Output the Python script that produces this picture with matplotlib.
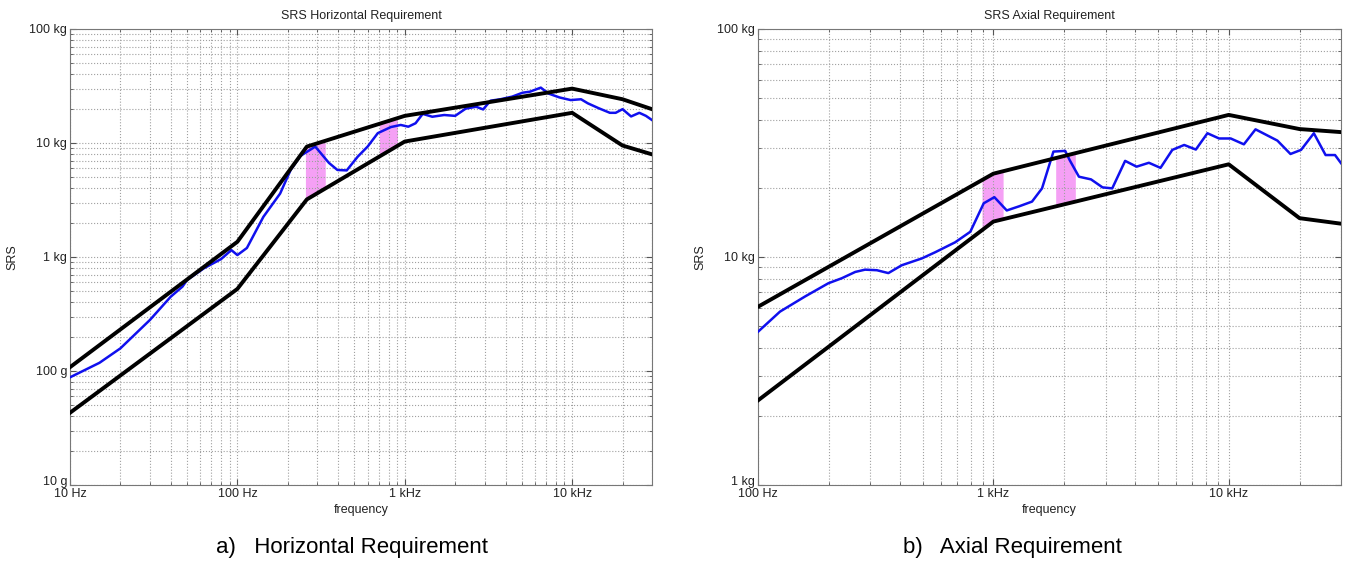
import numpy as np
import matplotlib.pyplot as plt
from matplotlib.ticker import FuncFormatter, LogLocator, NullFormatter
from matplotlib.transforms import ScaledTranslation

plt.rcParams['font.family'] = ['Liberation Sans', 'DejaVu Sans']

# SRS values are in g (1 kg = 1000 g)
# horizontal requirement
h_upper_f = [10, 100, 260, 1000, 10000, 20000, 30000]
h_upper_v = [108, 1360, 9300, 17300, 30000, 24200, 19800]
h_lower_f = [10, 100, 260, 1000, 10000, 20000, 30000]
h_lower_v = [43, 525, 3200, 10300, 18400, 9500, 7950]
h_meas_f = [10, 15, 20, 30, 40, 47, 50, 63, 80, 92, 100, 114, 143, 180, 208, 238,
            292, 352, 396, 450, 524, 600, 690, 826, 946, 1050, 1160, 1280, 1460,
            1720, 2000, 2310, 2670, 2940, 3250, 3730, 4380, 5050, 5600, 6500,
            7200, 8400, 9800, 11300, 12400, 14400, 16800, 18200, 20000, 22500,
            25200, 27600, 30000]
h_meas_v = [88, 118, 158, 280, 449, 550, 628, 795, 960, 1150, 1040, 1200, 2250,
            3600, 5800, 7700, 9300, 6700, 5800, 5750, 7600, 9300, 12200, 13800,
            14400, 13900, 14900, 18000, 17000, 17600, 17300, 20000, 20800, 19700,
            23500, 24200, 25500, 27600, 28200, 30600, 27200, 25100, 23800, 24200,
            22300, 20200, 18400, 18400, 19800, 17100, 18400, 17300, 15900]
h_bands = [(255, 335), (705, 905)]

# axial requirement
a_upper_f = [100, 1000, 10000, 20000, 30000]
a_upper_v = [6050, 23200, 42000, 36400, 35300]
a_lower_f = [100, 1000, 10000, 20000, 30000]
a_lower_v = [2350, 14300, 25500, 14800, 14000]
a_meas_f = [100, 124, 158, 199, 227, 259, 285, 320, 358, 408, 497, 567, 688, 798,
            910, 1010, 1140, 1290, 1460, 1610, 1800, 2020, 2110, 2310, 2600, 2910,
            3200, 3630, 4060, 4580, 5130, 5760, 6470, 7250, 8120, 9100, 10200,
            11600, 13000, 16100, 18300, 20300, 23000, 25800, 28300, 30000]
a_meas_v = [4700, 5760, 6700, 7670, 8070, 8600, 8800, 8750, 8500, 9200, 9860,
            10500, 11600, 12900, 17200, 18300, 16000, 16700, 17500, 20000, 29000,
            29200, 26600, 22500, 21900, 20200, 20000, 26400, 24900, 25900, 24600,
            29500, 31000, 29600, 34900, 33100, 33100, 31200, 36300, 32400, 28300,
            29500, 34900, 28000, 28000, 25800]
a_bands = [(895, 1100), (1840, 2230)]


def hz_label(v, pos):
    if v >= 1000:
        return '%g kHz' % (v / 1000)
    return '%g Hz' % v


def g_label(v, pos):
    if v >= 1000:
        return '%g kg' % (v / 1000)
    return '%g g' % v


def loginterp(f, xs, ys):
    return 10 ** np.interp(np.log10(f), np.log10(xs), np.log10(ys))


def draw_panel(ax, title, uf, uv, lf, lv, mf, mv, bands, xlim, ylim):
    for f0, f1 in bands:
        ff = np.logspace(np.log10(f0), np.log10(f1), 30)
        ax.fill_between(ff, loginterp(ff, lf, lv), loginterp(ff, uf, uv),
                        color='#f5a0f5', lw=0, zorder=1)
    ax.plot(mf, mv, color='#1010ee', lw=1.8, zorder=3)
    ax.plot(uf, uv, color='black', lw=2.8, zorder=4)
    ax.plot(lf, lv, color='black', lw=2.8, zorder=4)
    ax.set_xscale('log')
    ax.set_yscale('log')
    ax.set_xlim(*xlim)
    ax.set_ylim(*ylim)
    for axis in (ax.xaxis, ax.yaxis):
        axis.set_major_locator(LogLocator(base=10))
        axis.set_minor_locator(LogLocator(base=10, subs=np.arange(2, 10)))
        axis.set_minor_formatter(NullFormatter())
    ax.xaxis.set_major_formatter(FuncFormatter(hz_label))
    ax.yaxis.set_major_formatter(FuncFormatter(g_label))
    ax.grid(True, which='both', ls=':', color='#a0a0a0', lw=0.8)
    ax.tick_params(which='both', direction='in', top=True, right=True,
                   labelsize=9, colors='#555555', labelcolor='#222222', pad=2)
    ax.tick_params(which='major', length=4)
    ax.tick_params(which='minor', length=2)
    for s in ax.spines.values():
        s.set_color('#777777')
    ax.set_title(title, fontsize=9, color='#222222', pad=7)
    ax.set_xlabel('frequency', fontsize=9, color='#222222', labelpad=3)
    ax.set_ylabel('SRS', fontsize=9, color='#222222')
    ax.yaxis.set_label_coords(-0.088, 0.5)


fig = plt.figure(figsize=(13.47, 5.64), dpi=100)
ax1 = fig.add_axes([70 / 1347, 1 - 485 / 564, 582 / 1347, 456 / 564])
ax2 = fig.add_axes([758 / 1347, 1 - 485 / 564, 583 / 1347, 456 / 564])

draw_panel(ax1, 'SRS Horizontal Requirement', h_upper_f, h_upper_v, h_lower_f,
           h_lower_v, h_meas_f, h_meas_v, h_bands, (10, 30000), (10, 1e5))
draw_panel(ax2, 'SRS Axial Requirement', a_upper_f, a_upper_v, a_lower_f,
           a_lower_v, a_meas_f, a_meas_v, a_bands, (100, 30000), (1000, 1e5))

# lift the lowest y label a little, as in the original, so it clears the x label
fig.canvas.draw()
shift = ScaledTranslation(0, 5 / 100, fig.dpi_scale_trans)
for ax in (ax1, ax2):
    lab = ax.yaxis.get_majorticklabels()
    ymin = ax.get_ylim()[0]
    for t, loc in zip(lab, ax.get_yticks()):
        if abs(loc - ymin) < 1e-9 * ymin or np.isclose(loc, ymin):
            t.set_transform(t.get_transform() + shift)

fig.text(352 / 1347, 1 - 548 / 564, 'a)   Horizontal Requirement', fontsize=16,
         ha='center', va='center')
fig.text(1012 / 1347, 1 - 548 / 564, 'b)   Axial Requirement', fontsize=16,
         ha='center', va='center')

fig.savefig('out.png', dpi=100)
